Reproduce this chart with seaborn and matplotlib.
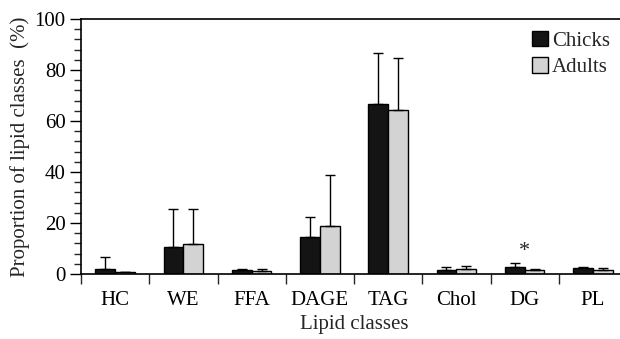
import numpy as np
import pandas as pd
import seaborn as sns
import matplotlib.pyplot as plt
from matplotlib.ticker import MultipleLocator, FixedLocator

sns.set_style("ticks")
plt.rcParams['font.family'] = ['Liberation Serif', 'DejaVu Serif']

# values (mean and upper SD, %)
classes = ['HC', 'WE', 'FFA', 'DAGE', 'TAG', 'Chol', 'DG', 'PL']
groups = ['Chicks', 'Adults']
chicks_mean = [2.1, 10.7, 1.6, 14.4, 66.5, 1.6, 2.9, 2.3]
chicks_sd = [4.7, 14.8, 0.5, 8.0, 20.0, 1.3, 1.3, 0.3]
adults_mean = [0.6, 11.9, 1.0, 18.7, 64.2, 2.1, 1.6, 1.4]
adults_sd = [0.0, 13.6, 1.1, 20.0, 20.6, 1.2, 0.3, 1.1]
colors = ['#141414', '#d3d3d3']

df = pd.DataFrame({
    'cls': classes * 2,
    'group': ['Chicks'] * len(classes) + ['Adults'] * len(classes),
    'value': chicks_mean + adults_mean,
})
sds = [chicks_sd, adults_sd]

fig = plt.figure(figsize=(6.2, 3.39), dpi=100)
ax = fig.add_axes([81 / 620, 65 / 339, 546 / 620, 255 / 339])

sns.barplot(data=df, x='cls', y='value', hue='group', order=classes,
            hue_order=groups, palette=colors, width=0.58, errorbar=None,
            edgecolor='black', linewidth=1, saturation=1, ax=ax)

# upward-only error bars from the drawn bars
for cont, sd in zip(ax.containers, sds):
    xs = [b.get_x() + b.get_width() / 2 for b in cont]
    ys = [b.get_height() for b in cont]
    ax.errorbar(xs, ys, yerr=[np.zeros(len(sd)), sd], fmt='none',
                ecolor='black', elinewidth=1, capsize=3.5, capthick=1, zorder=1)

ax.text(6, 9.0, '*', ha='center', va='center', fontsize=16)

ax.set_xlim(-0.5, 7.5)
ax.set_ylim(0, 100)
ax.yaxis.set_major_locator(MultipleLocator(20))
ax.yaxis.set_minor_locator(MultipleLocator(4))
ax.tick_params(axis='y', which='major', length=8, width=1, labelsize=15, pad=3)
ax.tick_params(axis='y', which='minor', length=5, width=1)
ax.xaxis.set_minor_locator(FixedLocator(np.arange(-0.5, 7.0, 1)))
ax.tick_params(axis='x', which='major', length=0, labelsize=15, pad=12)
ax.tick_params(axis='x', which='minor', length=7, width=1)
ax.tick_params(colors='black')

for s in ['left', 'bottom', 'top']:
    ax.spines[s].set_linewidth(1.2)
    ax.spines[s].set_color('black')
ax.spines['right'].set_visible(False)

ax.set_xlabel('Lipid classes', fontsize=15, labelpad=4)
ax.set_ylabel('Proportion of lipid classes  (%)', fontsize=15, labelpad=3)

leg = ax.legend(loc='upper right', bbox_to_anchor=(0.984, 0.985), frameon=False,
                fontsize=15, handlelength=0.75, handleheight=0.75,
                handletextpad=0.2, labelspacing=0.3, borderaxespad=0)
for h in leg.legend_handles:
    h.set_edgecolor('black')

fig.savefig('out.png', dpi=100)
